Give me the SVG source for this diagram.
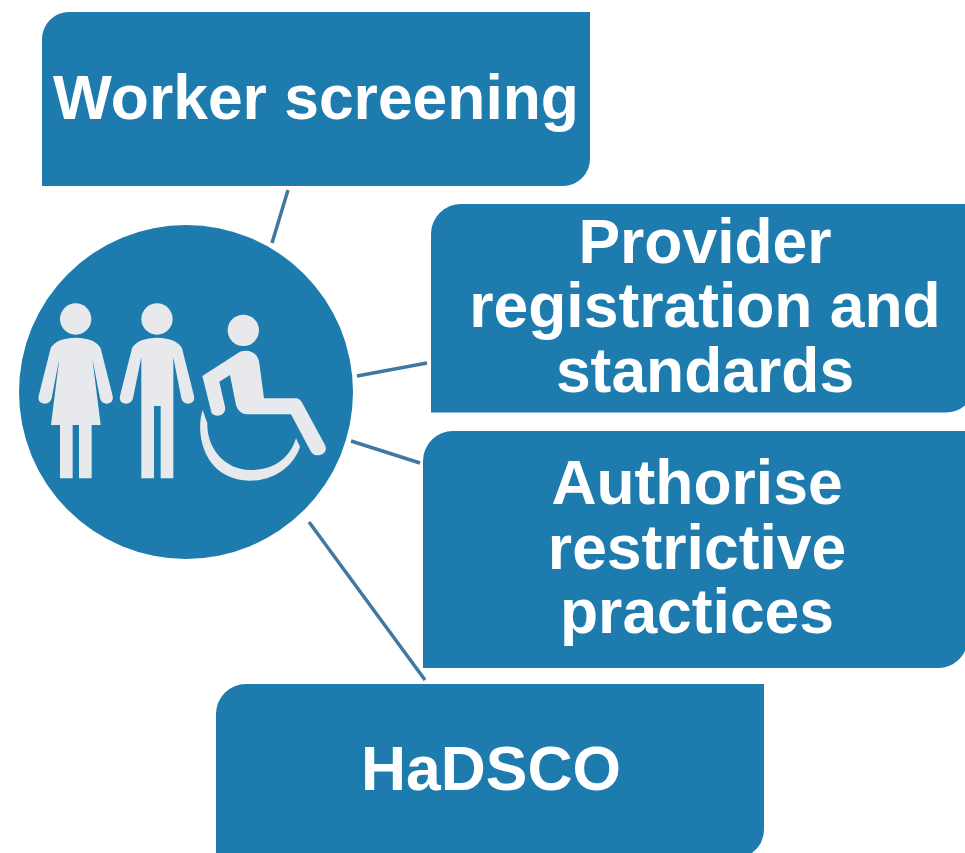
<svg xmlns="http://www.w3.org/2000/svg" width="965" height="853" viewBox="0 0 965 853">
<style>
.box{fill:#1d7cad}
.t{font-family:"Liberation Sans",Arial,sans-serif;font-weight:700;font-size:62.4px;fill:#fff;text-anchor:middle}
.c{stroke:#3f78a3;stroke-width:3.5;fill:none}
.p{fill:#e8e9ed}
</style>
<rect width="965" height="853" fill="#fff"/>
<g id="connectors">
<line class="c" x1="288" y1="190" x2="272" y2="243"/>
<line class="c" x1="357" y1="376" x2="427" y2="363"/>
<line class="c" x1="351" y1="441" x2="420" y2="463"/>
<line class="c" x1="309" y1="522" x2="425" y2="680"/>
</g>
<g id="hub">
<circle cx="186" cy="392" r="167" class="box"/>
<g transform="translate(10 220) scale(.33333)" class="p">
<circle cx="197" cy="297" r="47"/>
<path d="M197 353C230 353 262 363 272 385L308 528C312 545 298 551 290 551C280 551 273 545 270 535L247 415L272 615H245V775H207V615H188V775H150V615H123L148 415L125 535C122 545 115 551 105 551C95 551 82 545 86 528L122 385C132 363 165 353 197 353Z"/>
<circle cx="441" cy="297" r="47"/>
<path d="M441 353C474 353 506 363 516 385L552 528C556 545 542 551 534 551C524 551 517 545 514 535L490 412V775H452V558H432V775H394V412L369 535C366 545 359 551 349 551C339 551 326 545 330 528L366 385C376 363 409 353 441 353Z"/>
<circle cx="700" cy="331" r="47"/>
<path d="M577 468L690 395C720 385 745 400 748 430L762 535H860C870 537 875 545 880 555L945 675C955 695 935 710 915 705C908 703 905 698 900 690L843 583H710C695 583 680 570 677 550L660 465L628 485L645 560C650 585 620 595 605 580Z"/>
<path d="M578 570C555 640 580 780 720 782C800 782 855 730 870 680L858 655C840 715 790 752 720 750C640 748 590 680 592 610Z"/>
</g>
</g>
<g id="n1">
<path class="box" d="M42 186V39A27 27 0 0 1 69 12H590V159A27 27 0 0 1 563 186Z"/>
<text class="t" x="316" y="118.5">Worker screening</text>
</g>
<g id="n2">
<path class="box" d="M431 412.5V234A30 30 0 0 1 461 204H965V405.5A30 30 0 0 1 946 412.5Z"/>
<text class="t" x="705" y="262.7">Provider</text>
<text class="t" x="705" y="327.3">registration and</text>
<text class="t" x="705" y="392">standards</text>
</g>
<g id="n3">
<path class="box" d="M423 668V461A30 30 0 0 1 453 431H965V651A30 30 0 0 1 936 668Z"/>
<text class="t" x="697" y="504">Authorise</text>
<text class="t" x="697" y="568.7">restrictive</text>
<text class="t" x="697" y="633.3">practices</text>
</g>
<g id="n4">
<path class="box" d="M216 853V714A30 30 0 0 1 246 684H764V829A30 30 0 0 1 752 853Z"/>
<text class="t" x="491" y="789.5">HaDSCO</text>
</g>
</svg>
